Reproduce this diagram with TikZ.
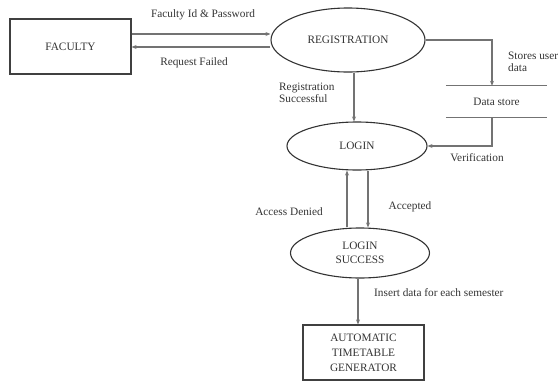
\documentclass[tikz,border=0pt]{standalone}
\usepackage{fontspec}
\setmainfont{Liberation Serif}
\usetikzlibrary{shapes.geometric,arrows.meta}
\begin{document}
\begin{tikzpicture}[x=1pt,y=-1pt,
  txt/.style={font=\fontsize{11.3}{12.5}\selectfont, text=black!80, inner sep=0pt},
  boxnode/.style={draw=black!75, line width=1.2pt, rectangle, minimum width=121pt, minimum height=55pt, inner sep=0pt, align=center, font=\fontsize{11.3}{15}\selectfont, text=black!80},
  procnode/.style={draw=black!80, line width=1.1pt, ellipse, inner sep=0pt, align=center, font=\fontsize{11.3}{14}\selectfont, text=black!80},
  arr/.style={draw=black!55, line width=1.1pt, -{Stealth[length=5pt,width=4pt]}},
  plain/.style={draw=black!55, line width=1.1pt}]
\useasboundingbox (0,0) rectangle (558,381);
\clip (0,0) rectangle (558,381);
\node[boxnode] (faculty) at (70.5,46.5) {FACULTY};
\node[procnode, minimum width=154pt, minimum height=64pt] (reg) at (348,40) {REGISTRATION};
\node[procnode, minimum width=140pt, minimum height=48pt] (login) at (357,146) {LOGIN};
\node[procnode, minimum width=139pt, minimum height=50pt] (ls) at (360,253) {LOGIN\\SUCCESS};
\node[boxnode] (atg) at (363.5,352.5) {AUTOMATIC\\TIMETABLE\\GENERATOR};
\node[txt, minimum width=101pt, minimum height=31pt] (ds) at (496.5,101.5) {Data store};
\draw[plain] (ds.north west) -- (ds.north east);
\draw[plain] (ds.south west) -- (ds.south east);
% connectors
\draw[arr] ([yshift=12.5pt]faculty.east) -- ([yshift=12.5pt]faculty.east -| reg.west);
\draw[arr] ([yshift=-0.5pt]faculty.east -| reg.west) -- ([yshift=-0.5pt]faculty.east);
\draw[arr] (reg.east) -| ([xshift=-4.5pt]ds.north);
\draw[arr] ([xshift=-4.5pt]ds.south) |- (login.east);
\draw[arr] ([xshift=6pt]reg.south) -- ([xshift=6pt]reg.south |- login.north);
\draw[arr] ([xshift=-13pt]ls.north) -- ([xshift=-13pt]ls.north |- login.south);
\draw[arr] ([xshift=11pt]login.south) -- ([xshift=11pt]login.south |- ls.north);
\draw[arr] ([xshift=-2pt]ls.south) -- ([xshift=-2pt]ls.south |- atg.north);
% labels
\node[txt] (l1) at (203,15) {Faculty Id \& Password};
\node[txt] (l2) at (194,63) {Request Failed};
\node[txt, align=left, anchor=west] (l3) at (279,93) {Registration\\Successful};
\node[txt, align=left, anchor=west] (l4) at (508,62) {Stores user\\data};
\node[txt] (l5) at (477,158) {Verification};
\node[txt] (l6) at (289,212) {Access Denied};
\node[txt] (l7) at (410,207) {Accepted};
\node[txt, anchor=west] (l8) at (374,293) {Insert data for each semester};
\end{tikzpicture}
\end{document}
